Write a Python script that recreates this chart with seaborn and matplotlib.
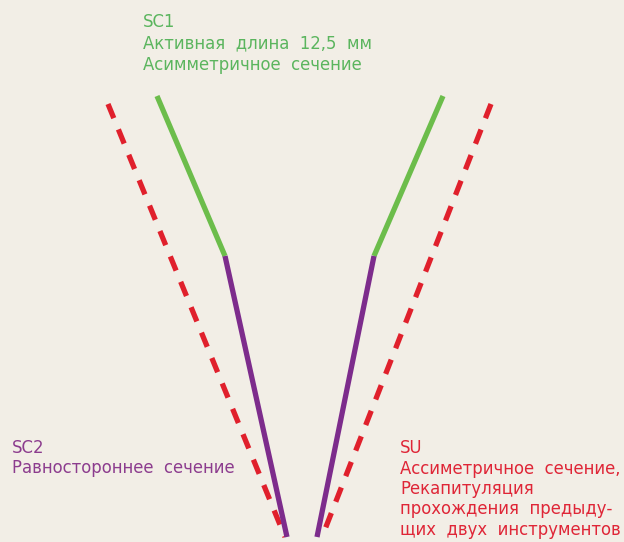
import matplotlib.pyplot as plt
import pandas as pd
import seaborn as sns

# pixel-space geometry (x right, y down)
sc1_left_x = [157, 225]
sc1_left_y = [96, 256]
sc1_right_x = [443, 374]
sc1_right_y = [96, 256]

sc2_left_x = [225, 287]
sc2_left_y = [256, 537]
sc2_right_x = [374, 317]
sc2_right_y = [256, 537]

su_left_x = [108, 285]
su_left_y = [104, 537]
su_right_x = [491, 322]
su_right_y = [104, 537]

sc1_labels = ["SC1", "Активная  длина  12,5  мм", "Асимметричное  сечение"]
sc2_labels = ["SC2", "Равностороннее  сечение"]
su_labels = [
    "SU",
    "Ассиметричное  сечение,",
    "Рекапитуляция",
    "прохождения  предыду-",
    "щих  двух  инструментов",
]

BG = "#f2eee6"
GREEN = "#6cbd4b"
PURPLE = "#7d2c8c"
RED = "#e0202c"
GREEN_TXT = "#5bb55e"
PURPLE_TXT = "#8c3c8e"
RED_TXT = "#df2637"

sns.set_theme(style="white")
plt.rcParams["font.family"] = ["DejaVu Sans"]

fig = plt.figure(figsize=(6.24, 5.42), dpi=100, facecolor=BG)
ax = fig.add_axes([0, 0, 1, 1], facecolor=BG)


def draw(xs, ys, color, dashed=False):
    df = pd.DataFrame({"x": xs, "y": ys})
    line = sns.lineplot(data=df, x="x", y="y", sort=False, color=color,
                        linewidth=3.8, ax=ax, estimator=None)
    l = line.lines[-1]
    l.set_solid_capstyle("butt")
    if dashed:
        l.set_dashes([2.9, 2.3])
        l.set_dash_capstyle("butt")


draw(su_left_x, su_left_y, RED, dashed=True)
draw(su_right_x, su_right_y, RED, dashed=True)
draw(sc1_left_x, sc1_left_y, GREEN)
draw(sc1_right_x, sc1_right_y, GREEN)
draw(sc2_left_x, sc2_left_y, PURPLE)
draw(sc2_right_x, sc2_right_y, PURPLE)


def label_block(x, y0, lines, color, step):
    for i, s in enumerate(lines):
        ax.text(x, y0 + i * step, s, color=color, fontsize=11.9,
                va="baseline", ha="left")


label_block(143, 27, sc1_labels, GREEN_TXT, 21.5)
label_block(12, 453, sc2_labels, PURPLE_TXT, 20)
label_block(400, 453, su_labels, RED_TXT, 20.5)

ax.set_xlim(0, 624)
ax.set_ylim(542, 0)
ax.set_axis_off()

fig.savefig("out.png", dpi=100, facecolor=BG)
